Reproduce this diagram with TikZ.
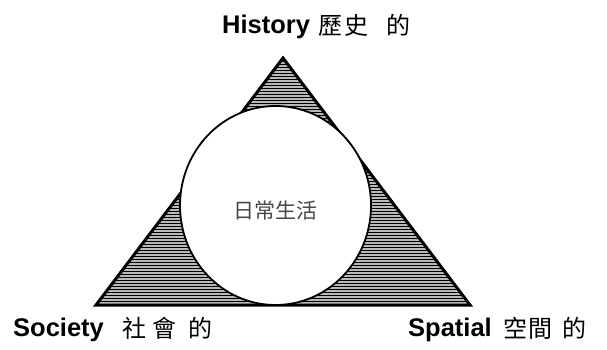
\documentclass[tikz,border=0pt]{standalone}
\usepackage{fontspec}
\usetikzlibrary{shapes.geometric}
\setmainfont{Liberation Sans}
\newfontfamily\cjk{Noto Sans CJK TC}
\begin{document}
\begin{tikzpicture}[x=1pt,y=-1pt,
  lbl/.style={font=\fontsize{25.5}{30}\selectfont\bfseries, anchor=base west, inner sep=0pt},
  cjklbl/.style={font=\fontsize{24}{28}\selectfont\cjk, anchor=base west, inner sep=0pt},
  tri/.style={draw=black, line width=3pt, line join=miter},
  hatch/.style={draw=black, line width=0.9pt},
  ring/.style={draw=black, line width=1.8pt, fill=white}]
\useasboundingbox (0,0) rectangle (607,350);
\coordinate (A) at (283,58);
\coordinate (B) at (96,305);
\coordinate (C) at (470,305);
% hatched triangle
\begin{scope}
  \clip (A) -- (B) -- (C) -- cycle;
  \fill[gray!55] (A) -- (B) -- (C) -- cycle;
  \foreach \yy in {58,61,...,307} {
    \draw[hatch] (90,\yy) -- (480,\yy);
  }
\end{scope}
\draw[tri] (A) -- (B) -- (C) -- cycle;
% circle
\node[ring, ellipse, minimum width=191pt, minimum height=199pt, inner sep=0pt] (circ) at (275.5,205.5) {};
\node[font=\fontsize{21}{24}\selectfont\cjk, text=black!72] (daily) at (275,211) {日常生活};
% labels
\node[lbl] (hist) at (222,34) {History};
\node[cjklbl] (histc) at (318,35) {歷\hspace{2pt}史\hspace{18pt}的};
\node[lbl] (soc) at (13,336) {Society};
\node[cjklbl] (socc) at (122,337) {社\hspace{6pt}會\hspace{12pt}的};
\node[lbl] (spa) at (408,336) {Spatial};
\node[cjklbl] (spac) at (503,337) {空\hspace{1pt}間\hspace{10pt}的};
\end{tikzpicture}
\end{document}
